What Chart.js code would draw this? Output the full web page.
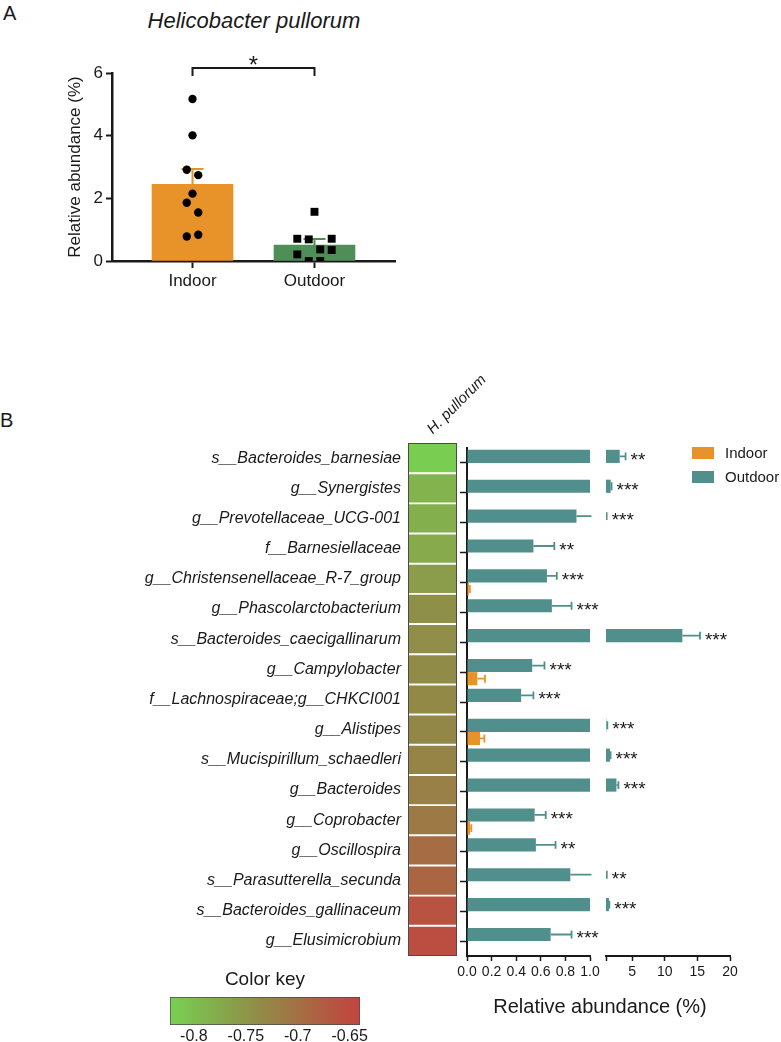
<!DOCTYPE html>
<html lang="en">
<head>
<meta charset="utf-8">
<title>Helicobacter pullorum</title>
<script src="https://cdn.jsdelivr.net/npm/chart.js@4.4.1/dist/chart.umd.min.js"></script>
<style>
  html, body { margin: 0; padding: 0; background: #fff; }
  #page { position: relative; width: 781px; height: 1042px; overflow: hidden;
          font-family: "Liberation Sans", Arial, sans-serif; color: #1a1a1a; }
  #page canvas { position: absolute; }
  .txt { position: absolute; line-height: 1; white-space: nowrap; }
  .swatch { position: absolute; width: 22px; height: 12px; }
</style>
</head>
<body>
<div id="page">
  <div class="txt" style="left:3px;top:3px;font-size:20px;">A</div>
  <div class="txt" style="left:104px;top:10px;width:300px;text-align:center;font-size:22px;font-style:italic;">Helicobacter pullorum</div>
  <div class="txt" style="left:0px;top:410px;font-size:20px;">B</div>

  <canvas id="chartA" width="420" height="300" style="left:0;top:0"></canvas>
  <canvas id="heatmap" width="510" height="640" style="left:0;top:330px"></canvas>
  <canvas id="barsLeft" width="170" height="690" style="left:440px;top:330px"></canvas>
  <canvas id="barsRight" width="191" height="690" style="left:590px;top:330px"></canvas>
  <canvas id="colorKey" width="250" height="62" style="left:140px;top:985px"></canvas>

  <div class="swatch" style="left:692px;top:447px;background:#e8922a"></div>
  <div class="txt" style="left:725px;top:445px;font-size:15px;">Indoor</div>
  <div class="swatch" style="left:692px;top:471px;background:#508f8c"></div>
  <div class="txt" style="left:725px;top:469px;font-size:15px;">Outdoor</div>

  <div class="txt" style="left:470px;top:996px;width:260px;text-align:center;font-size:20px;">Relative abundance (%)</div>
  <div class="txt" style="left:165px;top:969px;width:200px;text-align:center;font-size:19px;">Color key</div>
</div>

<script>
// --- PANEL A DATA ---
const groupLabels = ['Indoor', 'Outdoor'];
const groupMeans = [2.45, 0.51];
const groupSem = [0.49, 0.19];
const indoorPoints = [5.17, 4.01, 2.91, 2.74, 2.15, 1.86, 1.55, 0.78, 0.84];
const outdoorPoints = [1.57, 0.71, 0.69, 0.71, 0.37, 0.35, 0.21, 0.00, 0.00];
// swarm slots (half point spacing) for the dot plot
const indoorSlots = [0, 0, -1, 1, 0, -1, 1, -1, 1];
const outdoorSlots = [0, -3, -1, 3, 1, 3, -3, -1, 1];
const groupSig = '*';

// --- PANEL B DATA ---
const taxa = [
    's__Bacteroides_barnesiae', 'g__Synergistes', 'g__Prevotellaceae_UCG-001',
    'f__Barnesiellaceae', 'g__Christensenellaceae_R-7_group', 'g__Phascolarctobacterium',
    's__Bacteroides_caecigallinarum', 'g__Campylobacter', 'f__Lachnospiraceae;g__CHKCI001',
    'g__Alistipes', 's__Mucispirillum_schaedleri', 'g__Bacteroides',
    'g__Coprobacter', 'g__Oscillospira', 's__Parasutterella_secunda',
    's__Bacteroides_gallinaceum', 'g__Elusimicrobium'
];
const heatValues = [-0.82, -0.786, -0.782, -0.775, -0.757, -0.742, -0.740, -0.737, -0.733,
                    -0.731, -0.727, -0.722, -0.713, -0.695, -0.687, -0.660, -0.655];
const outdoorMean = [3.1, 1.72, 0.89, 0.54, 0.65, 0.69, 12.7, 0.53, 0.44,
                     1.05, 1.6, 2.6, 0.55, 0.56, 0.84, 1.45, 0.68];
const outdoorSem = [0.9, 0.13, 0.21, 0.17, 0.08, 0.16, 2.7, 0.10, 0.10,
                    0.15, 0.10, 0.30, 0.09, 0.16, 0.28, 0.06, 0.17];
const indoorMean = [0, 0, 0, 0, 0.015, 0, 0, 0.084, 0, 0.106, 0, 0, 0.025, 0, 0, 0, 0];
const indoorSem = [0, 0, 0, 0, 0.008, 0, 0, 0.062, 0, 0.035, 0, 0, 0.01, 0, 0, 0, 0];
const signif = ['**', '***', '***', '**', '***', '***', '***', '***', '***',
                '***', '***', '***', '***', '**', '**', '***', '***'];
const rightTicks = [1, 5, 10, 15, 20];

// colour key
const keyStops = [-0.823, -0.735, -0.64];
const keyColors = ['#78d052', '#918a47', '#c3433f'];
const keyTicks = [-0.8, -0.75, -0.7, -0.65];

// --- COMMON STYLE ---
const FONT = '"Liberation Sans", Arial, sans-serif';
const INK = '#1a1a1a';
const ORANGE = '#e8922a';
const GREEN = '#4f8f57';
const TEAL = '#508f8c';
Chart.defaults.font.family = FONT;
Chart.defaults.color = INK;

function hexToRgb(h) {
    const n = parseInt(h.slice(1), 16);
    return [(n >> 16) & 255, (n >> 8) & 255, n & 255];
}
function heatColor(v) {
    let i = 0;
    while (i < keyStops.length - 2 && v > keyStops[i + 1]) i++;
    const t = Math.min(1, Math.max(0, (v - keyStops[i]) / (keyStops[i + 1] - keyStops[i])));
    const a = hexToRgb(keyColors[i]), b = hexToRgb(keyColors[i + 1]);
    return 'rgb(' + a.map((c, k) => Math.round(c + (b[k] - c) * t)).join(',') + ')';
}

// ================= PANEL A =================
const slotWidth = 0.047;
const bracketLevel = 6.16;

const panelAExtras = {
    id: 'panelAExtras',
    afterDatasetDraw(chart, args) {
        if (args.meta.type !== 'bar') return;
        const ctx = chart.ctx, ys = chart.scales.y;
        args.meta.data.forEach((bar, i) => {
            const top = ys.getPixelForValue(groupMeans[i] + groupSem[i]);
            ctx.save();
            ctx.strokeStyle = [ORANGE, GREEN][i];
            ctx.lineWidth = 2;
            ctx.beginPath();
            ctx.moveTo(bar.x, bar.y);
            ctx.lineTo(bar.x, top);
            ctx.moveTo(bar.x - 11, top);
            ctx.lineTo(bar.x + 11, top);
            ctx.stroke();
            ctx.restore();
        });
    },
    afterDraw(chart) {
        const ctx = chart.ctx, xs = chart.scales.x, ys = chart.scales.y;
        const x0 = xs.getPixelForValue(0), x1 = xs.getPixelForValue(1);
        const yb = ys.getPixelForValue(bracketLevel);
        ctx.save();
        ctx.strokeStyle = INK;
        ctx.lineWidth = 2;
        ctx.beginPath();
        ctx.moveTo(x0, yb + 8);
        ctx.lineTo(x0, yb);
        ctx.lineTo(x1, yb);
        ctx.lineTo(x1, yb + 8);
        ctx.stroke();
        ctx.fillStyle = INK;
        ctx.font = '24px ' + FONT;
        ctx.textAlign = 'center';
        ctx.textBaseline = 'alphabetic';
        ctx.fillText(groupSig, (x0 + x1) / 2, yb + 5);
        ctx.restore();
    }
};

new Chart(document.getElementById('chartA'), {
    type: 'bar',
    data: {
        datasets: [
            {
                type: 'scatter',
                data: indoorPoints.map((v, k) => ({ x: 0 + indoorSlots[k] * slotWidth, y: v })),
                pointStyle: 'circle', pointRadius: 4.2,
                backgroundColor: '#000', borderColor: '#000', borderWidth: 0,
                order: 1
            },
            {
                type: 'scatter',
                data: outdoorPoints.map((v, k) => ({ x: 1 + outdoorSlots[k] * slotWidth, y: v })),
                pointStyle: 'rect', pointRadius: 5.6,
                backgroundColor: '#000', borderColor: '#000', borderWidth: 0,
                order: 1
            },
            {
                type: 'bar',
                data: groupMeans.map((v, i) => ({ x: i, y: v })),
                backgroundColor: [ORANGE, GREEN],
                barThickness: 81,
                order: 2
            }
        ]
    },
    options: {
        responsive: false,
        animation: false,
        devicePixelRatio: 1,
        layout: { padding: { top: 73, right: 25, left: 0, bottom: 0 } },
        plugins: { legend: { display: false }, tooltip: { enabled: false } },
        scales: {
            x: {
                type: 'linear', min: -0.66, max: 1.66, offset: false,
                afterBuildTicks(s) { s.ticks = [{ value: 0 }, { value: 1 }]; },
                ticks: { callback: v => groupLabels[v], font: { size: 17 }, color: INK, padding: 3 },
                grid: { drawOnChartArea: false, offset: false, tickLength: 7, tickWidth: 2, color: INK },
                border: { width: 2.5, color: INK },
                afterFit(s) { s.height = 39; }
            },
            y: {
                min: 0, max: 6,
                ticks: { stepSize: 2, font: { size: 17 }, color: INK, padding: 3 },
                grid: { drawOnChartArea: false, tickLength: 6, tickWidth: 2, color: INK },
                border: { width: 2.5, color: INK },
                title: { display: true, text: 'Relative abundance (%)', font: { size: 17 }, color: INK, padding: { top: 65 } },
                afterFit(s) { s.width = 112; }
            }
        }
    },
    plugins: [panelAExtras]
});

// ================= PANEL B : HEATMAP =================
const heatOutline = {
    id: 'heatOutline',
    afterDatasetsDraw(chart) {
        const a = chart.chartArea, ctx = chart.ctx;
        ctx.save();
        ctx.strokeStyle = '#4a4a4a';
        ctx.lineWidth = 1;
        ctx.strokeRect(a.left + 0.5, a.top + 0.5, a.right - a.left - 1, a.bottom - a.top - 1);
        ctx.restore();
    }
};

new Chart(document.getElementById('heatmap'), {
    type: 'bar',
    data: {
        labels: taxa,
        datasets: [{
            data: taxa.map(() => 1),
            backgroundColor: heatValues.map(heatColor),
            borderColor: '#ffffff',
            borderWidth: { top: 1.3, bottom: 1.3, left: 0, right: 0 },
            borderSkipped: false,
            barPercentage: 1,
            categoryPercentage: 1,
            clip: 0,
            xAxisID: 'x'
        }]
    },
    options: {
        indexAxis: 'y',
        responsive: false,
        animation: false,
        devicePixelRatio: 1,
        layout: { padding: { top: 0, right: 53, left: 0, bottom: 14 } },
        plugins: { legend: { display: false }, tooltip: { enabled: false } },
        scales: {
            x: { type: 'linear', min: 0, max: 1, display: false },
            xTop: {
                type: 'category', labels: ['H. pullorum'], position: 'top', offset: true,
                ticks: { minRotation: 45, maxRotation: 45, labelOffset: 10, font: { size: 15, style: 'italic' }, color: INK, padding: 5 },
                grid: { display: false, drawTicks: false },
                border: { display: false },
                afterFit(s) {
                    s.height = 113;
                    s.paddingLeft = 0;
                    s.paddingRight = 0;
                }
            },
            y: {
                type: 'category',
                ticks: { autoSkip: false, font: { size: 16, style: 'italic' }, color: INK, padding: 7 },
                grid: { display: false, drawTicks: false },
                border: { display: false },
                afterFit(s) {
                    s.width = 408;
                    s.paddingTop = 0;
                    s.paddingBottom = 0;
                }
            }
        }
    },
    plugins: [heatOutline]
});

// ================= PANEL B : BARS (broken axis, two segments) =================
const hBarExtras = {
    id: 'hBarExtras',
    afterDatasetsDraw(chart) {
        const ctx = chart.ctx, xs = chart.scales.x, area = chart.chartArea;
        ctx.save();
        ctx.beginPath();
        ctx.rect(area.left, area.top, area.right - area.left + 1.5, area.bottom - area.top);
        ctx.clip();
        chart.data.datasets.forEach((ds, d) => {
            const meta = chart.getDatasetMeta(d);
            meta.data.forEach((bar, i) => {
                const sem = ds.errors[i];
                if (!sem) return;
                const x0 = xs.getPixelForValue(ds.data[i]);
                const x1 = xs.getPixelForValue(ds.data[i] + sem);
                const capH = bar.height * 0.6;
                ctx.strokeStyle = ds.backgroundColor;
                ctx.lineWidth = 1.8;
                ctx.beginPath();
                ctx.moveTo(x0, bar.y);
                ctx.lineTo(x1, bar.y);
                ctx.moveTo(x1, bar.y - capH / 2);
                ctx.lineTo(x1, bar.y + capH / 2);
                ctx.stroke();
            });
        });
        ctx.restore();

        // significance stars after the outdoor error bar
        const outMeta = chart.getDatasetMeta(0);
        ctx.save();
        ctx.fillStyle = INK;
        ctx.font = '19px ' + FONT;
        ctx.textAlign = 'left';
        ctx.textBaseline = 'alphabetic';
        signif.forEach((s, i) => {
            const end = outdoorMean[i] + outdoorSem[i];
            if (end <= xs.min || end > xs.max) return;
            ctx.fillText(s, xs.getPixelForValue(end) + 5, outMeta.data[i].y + 10);
        });
        ctx.restore();
    }
};

function barDatasets() {
    return [
        { label: 'Outdoor', data: outdoorMean, errors: outdoorSem, backgroundColor: TEAL,
          barPercentage: 1, categoryPercentage: 0.88, clip: 0 },
        { label: 'Indoor', data: indoorMean, errors: indoorSem, backgroundColor: ORANGE,
          barPercentage: 1, categoryPercentage: 0.88, clip: 0 }
    ];
}

const xAxisCommon = {
    type: 'linear',
    grid: { drawOnChartArea: false, tickLength: 5, tickWidth: 1.5, color: INK },
    border: { width: 2, color: INK },
    afterFit(s) { s.height = 64; }
};

new Chart(document.getElementById('barsLeft'), {
    type: 'bar',
    data: { labels: taxa, datasets: barDatasets() },
    options: {
        indexAxis: 'y',
        responsive: false,
        animation: false,
        devicePixelRatio: 1,
        layout: { padding: { top: 118, right: 20, left: 0, bottom: 0 } },
        plugins: { legend: { display: false }, tooltip: { enabled: false } },
        scales: {
            x: Object.assign({}, xAxisCommon, {
                min: 0, max: 1,
                ticks: { stepSize: 0.2, callback: v => v.toFixed(1), font: { size: 14 }, color: INK, padding: 3, maxRotation: 0 }
            }),
            y: {
                type: 'category', offset: true,
                ticks: { display: false },
                grid: { drawOnChartArea: false, offset: false, tickLength: 7, tickWidth: 1.5, color: INK },
                border: { width: 2, color: INK },
                afterFit(s) { s.width = 27; }
            }
        }
    },
    plugins: [hBarExtras]
});

new Chart(document.getElementById('barsRight'), {
    type: 'bar',
    data: { labels: taxa, datasets: barDatasets() },
    options: {
        indexAxis: 'y',
        responsive: false,
        animation: false,
        devicePixelRatio: 1,
        layout: { padding: { top: 118, right: 51, left: 16, bottom: 0 } },
        plugins: { legend: { display: false }, tooltip: { enabled: false } },
        scales: {
            x: Object.assign({}, xAxisCommon, {
                min: rightTicks[0], max: rightTicks[rightTicks.length - 1],
                afterBuildTicks(s) { s.ticks = rightTicks.map(v => ({ value: v })); },
                ticks: { callback: v => (v === rightTicks[0] ? '' : String(v)), font: { size: 14 }, color: INK, padding: 3, maxRotation: 0 }
            }),
            y: { type: 'category', offset: true, display: false }
        }
    },
    plugins: [hBarExtras]
});

// ================= COLOUR KEY =================
new Chart(document.getElementById('colorKey'), {
    type: 'bar',
    data: {
        labels: ['key'],
        datasets: [{
            data: [[keyStops[0], keyStops[keyStops.length - 1]]],
            backgroundColor(c) {
                const chart = c.chart, area = chart.chartArea;
                if (!area) return keyColors[0];
                const xs = chart.scales.x;
                const g = chart.ctx.createLinearGradient(area.left, 0, area.right, 0);
                keyStops.forEach((v, i) => {
                    const t = (xs.getPixelForValue(v) - area.left) / (area.right - area.left);
                    g.addColorStop(Math.min(1, Math.max(0, t)), keyColors[i]);
                });
                return g;
            },
            borderColor: '#4a4a4a',
            borderWidth: 1,
            borderSkipped: false,
            barPercentage: 1,
            categoryPercentage: 1
        }]
    },
    options: {
        indexAxis: 'y',
        responsive: false,
        animation: false,
        devicePixelRatio: 1,
        layout: { padding: { top: 12, right: 30, left: 30, bottom: 0 } },
        plugins: { legend: { display: false }, tooltip: { enabled: false } },
        scales: {
            x: {
                type: 'linear', min: keyStops[0], max: keyStops[keyStops.length - 1],
                afterBuildTicks(s) { s.ticks = keyTicks.map(v => ({ value: v })); },
                ticks: { callback: v => String(v), font: { size: 16 }, color: INK, padding: 2, maxRotation: 0 },
                grid: { display: false, drawTicks: false },
                border: { display: false },
                afterFit(s) { s.height = 22; }
            },
            y: { type: 'category', display: false }
        }
    }
});
</script>
</body>
</html>
